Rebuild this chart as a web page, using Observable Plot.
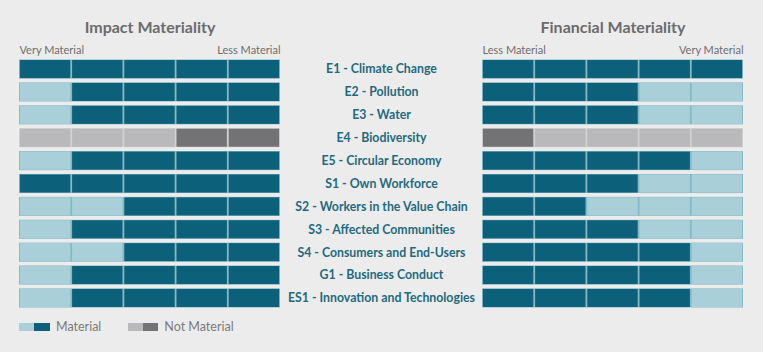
<!DOCTYPE html>
<html>
<head>
<meta charset="utf-8">
<script src="https://cdn.jsdelivr.net/npm/d3@7"></script>
<script src="https://cdn.jsdelivr.net/npm/@observablehq/plot@0.6"></script>
<style>
  html, body { margin: 0; padding: 0; background: #ececec; }
  #wrap { position: relative; width: 763px; height: 352px; background: #ececec; font-family: Lato, "Open Sans", sans-serif; }
  #legend { position: absolute; left: 19px; top: 319px; display: flex; align-items: center; font-size: 12.5px; color: #7b7b7b; }
  .sw { display: inline-block; width: 15px; height: 8px; }
  .lab { margin-left: 6px; margin-right: 27px; }
</style>
</head>
<body>
<div id="wrap">
  <div id="chart"></div>
  <div id="legend">
    <span class="sw" style="background:#a9d0d9"></span><span class="sw" style="background:#0d6079;width:16px"></span><span class="lab">Material</span>
    <span class="sw" style="background:#b9b9bb"></span><span class="sw" style="background:#737375"></span><span class="lab">Not Material</span>
  </div>
</div>
<script>
// ---- Data ----
const categories = [
  "E1 - Climate Change",
  "E2 - Pollution",
  "E3 - Water",
  "E4 - Biodiversity",
  "E5 - Circular Economy",
  "S1 - Own Workforce",
  "S2 - Workers in the Value Chain",
  "S3 - Affected Communities",
  "S4 - Consumers and End-Users",
  "G1 - Business Conduct",
  "ES1 - Innovation and Technologies"
];
// number of filled (dark) segments out of 5
const impactScore    = [5, 4, 4, 2, 4, 5, 3, 4, 3, 4, 4]; // filled from the right ("Less Material" side)
const financialScore = [5, 3, 3, 1, 4, 3, 2, 3, 4, 4, 4]; // filled from the left ("Less Material" side)
const material       = [true, true, true, false, true, true, true, true, true, true, true];
const panelTitles = ["Impact Materiality", "Financial Materiality"];
const impactEnds = ["Very Material", "Less Material"];
const financialEnds = ["Less Material", "Very Material"];
const nSeg = 5;

// ---- layout constants (in segment units) ----
const gap = 3.87;
const rightOffset = nSeg + gap;

const colorDomain = ["dark", "light", "gdark", "glight"];
const colorRange = ["#0d6079", "#a9d0d9", "#737375", "#b9b9bb"];

const segments = [];
const underlay = [];
categories.forEach((c, i) => {
  const m = material[i];
  underlay.push({cat: c, x1: 0, x2: nSeg, m});
  underlay.push({cat: c, x1: rightOffset, x2: rightOffset + nSeg, m});
  for (let j = 0; j < nSeg; j++) {
    const darkI = j >= nSeg - impactScore[i];
    const darkF = j < financialScore[i];
    segments.push({cat: c, x1: j, x2: j + 1, kind: m ? (darkI ? "dark" : "light") : (darkI ? "gdark" : "glight")});
    segments.push({cat: c, x1: rightOffset + j, x2: rightOffset + j + 1, kind: m ? (darkF ? "dark" : "light") : (darkF ? "gdark" : "glight")});
  }
});

const font = "Lato, 'Open Sans', sans-serif";
const endStyle = {frameAnchor: "top", lineAnchor: "middle", dy: -5, fill: "#6e6e6e", fontSize: 11, letterSpacing: -0.3};
const titleStyle = {frameAnchor: "top", lineAnchor: "middle", dy: -28, fill: "#6b6b6b", fontWeight: "bold", fontSize: 16};

const chart = Plot.plot({
  width: 763,
  height: 352,
  marginTop: 55.2,
  marginBottom: 40.2,
  marginLeft: 19,
  marginRight: 20,
  style: {background: "transparent", fontFamily: font},
  x: {domain: [0, rightOffset + nSeg], axis: null},
  y: {domain: categories, axis: null, padding: 0.21, round: false},
  color: {domain: colorDomain, range: colorRange},
  marks: [
    Plot.barX(underlay, {x1: "x1", x2: "x2", y: "cat", fill: d => d.m ? "#86b9c6" : "#d2d2d3", insetTop: -0.5, insetBottom: -0.5}),
    Plot.barX(segments, {x1: "x1", x2: "x2", y: "cat", fill: "kind", insetLeft: 0.9, insetRight: 0.9}),
    Plot.text(categories, {x: nSeg + gap / 2, y: d => d, text: d => d, fill: "#1f6a80", fontWeight: "bold", fontSize: 12.3, letterSpacing: -0.25}),
    Plot.text([panelTitles[0]], {x: nSeg / 2, ...titleStyle}),
    Plot.text([panelTitles[1]], {x: rightOffset + nSeg / 2, ...titleStyle}),
    Plot.text([impactEnds[0]], {x: 0, textAnchor: "start", ...endStyle}),
    Plot.text([impactEnds[1]], {x: nSeg, textAnchor: "end", ...endStyle}),
    Plot.text([financialEnds[0]], {x: rightOffset, textAnchor: "start", ...endStyle}),
    Plot.text([financialEnds[1]], {x: rightOffset + nSeg, textAnchor: "end", ...endStyle})
  ]
});
document.getElementById("chart").appendChild(chart);
</script>
</body>
</html>
